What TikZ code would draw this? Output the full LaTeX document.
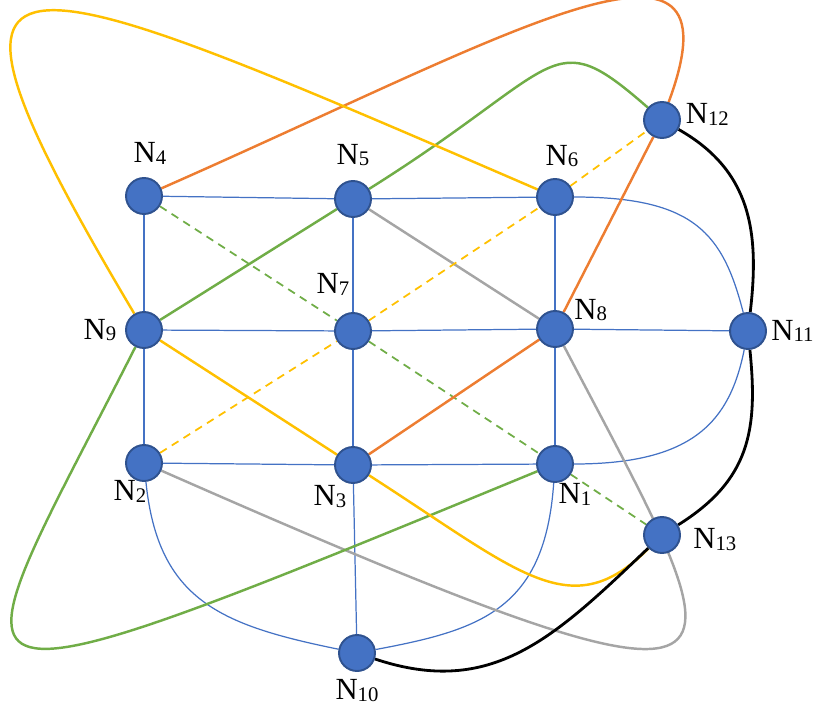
\documentclass[tikz,border=0pt]{standalone}
\usepackage{fontspec}
\setmainfont{Liberation Serif}
\usepackage{xcolor}
\usetikzlibrary{positioning, backgrounds}
\definecolor{nodeBlue}{RGB}{68,114,196}
\definecolor{nodeRim}{RGB}{47,82,143}
\definecolor{linkGray}{RGB}{165,165,165}
\definecolor{linkOrange}{RGB}{237,125,49}
\definecolor{linkYellow}{RGB}{255,192,0}
\definecolor{linkGreen}{RGB}{112,173,71}
\newcommand{\nlab}[1]{N\raisebox{-1pt}{\fontsize{11.8}{12}\selectfont #1}}

\begin{document}
\begin{tikzpicture}[
    x=0.02cm, y=-0.02cm,
    router/.style={circle, draw=nodeRim, line width=1.1pt, fill=nodeBlue, minimum size=0.72cm, inner sep=0pt},
    lbl/.style={inner sep=0pt, font=\fontsize{17.5}{20}\selectfont},
    link/.style={draw=nodeBlue, line width=0.7pt},
    route/.style={line width=1.4pt},
    dashroute/.style={line width=1pt, dash pattern=on 4.5pt off 3.4pt}
]
\useasboundingbox (0,0) rectangle (818,710);

% Nodes
\node[router] (N4) at (144,196) {};
\node[router] (N5) at (353,199) {};
\node[router] (N6) at (555,197) {};
\node[router] (N12) at (662,120) {};
\node[router] (N9) at (144,330) {};
\node[router] (N7) at (353,331) {};
\node[router] (N8) at (555,329) {};
\node[router] (N11) at (748,331) {};
\node[router] (N2) at (144,463) {};
\node[router] (N3) at (353,465) {};
\node[router] (N1) at (555,464) {};
\node[router] (N13) at (662,535) {};
\node[router] (N10) at (357,653) {};

% Labels
\node[lbl, above=0.25cm of N4, xshift=0.12cm] (l4) {\nlab{4}};
\node[lbl, above=0.27cm of N5] (l5) {\nlab{5}};
\node[lbl, above=0.21cm of N6, xshift=0.14cm] (l6) {\nlab{6}};
\node[lbl, above=0.33cm of N7, xshift=-0.4cm] (l7) {\nlab{7}};
\node[lbl, left=0.17cm of N9] (l9) {\nlab{9}};
\node[lbl, right=0pt of N8, yshift=0.38cm] (l8) {\nlab{8}};
\node[lbl, right=0.08cm of N11] (l11) {\nlab{11}};
\node[lbl, right=0.09cm of N12, yshift=0.11cm] (l12) {\nlab{12}};
\node[lbl, right=0.24cm of N13, yshift=-0.09cm] (l13) {\nlab{13}};
\node[lbl, below=-0.03cm of N2, xshift=-0.28cm] (l2) {\nlab{2}};
\node[lbl, below=0.03cm of N3, xshift=-0.46cm] (l3) {\nlab{3}};
\node[lbl, below=0.14cm of N10] (l10) {\nlab{10}};
\node[lbl, below=0cm of N1, xshift=0.4cm] (l1) {\nlab{1}};

\begin{scope}[on background layer]
% Grid links
\foreach \a/\b in {N4/N5, N5/N6, N4/N9, N5/N7, N6/N8, N9/N7, N7/N8, N8/N11,
                   N9/N2, N7/N3, N8/N1, N2/N3, N3/N1, N3/N10}
    \draw[link] (\a) -- (\b);
\draw[link] (N6) .. controls (695,197) and (723,234) .. (N11);
\draw[link] (N1) .. controls (695,464) and (730,420) .. (N11);
\draw[link] (N2) .. controls (158,600) and (220,625) .. (N10);
\draw[link] (N1) .. controls (545,610) and (480,630) .. (N10);

% Routes
\draw[route, linkGray] (N5) -- (N8) .. controls (745,692) and (803,753) .. (N2);
\draw[dashroute, linkGreen] (N4) -- (N7) -- (N1) -- (N13);
\draw[dashroute, linkYellow] (N2) -- (N7) -- (N6) -- (N12);
\draw[route, linkGreen] (N12) .. controls (549,21) and (565,66) .. (N5) -- (N9)
    .. controls (-50,713) and (-106,736) .. (N1);
\draw[route, linkOrange] (N4) .. controls (510,35) and (746,-106) .. (N12) -- (N8) -- (N3);
\draw[route, linkYellow] (N6) .. controls (-10,-47) and (-106,-91) .. (N9) -- (N3)
    .. controls (521,573) and (571,626) .. (N13);
\draw[route, line width=1.6pt, black] (N12) .. controls (750,170) and (760,230) .. (N11)
    .. controls (758,430) and (750,480) .. (N13)
    .. controls (554,638) and (492,698) .. (N10);
\end{scope}
\end{tikzpicture}
\end{document}
